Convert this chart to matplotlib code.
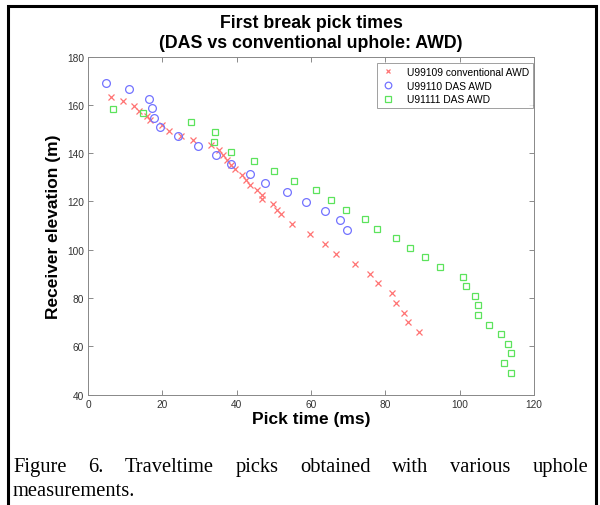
import matplotlib
matplotlib.use('Agg')
import matplotlib.pyplot as plt
from matplotlib.patches import Rectangle

# picks
conv_t = [6.3, 9.5, 12.4, 13.7, 16.0, 16.7, 19.8, 21.9, 25.1, 28.2, 33.2, 35.2,
          36.3, 37.4, 38.5, 39.5, 41.5, 42.5, 43.7, 45.6, 46.7, 46.9, 49.8, 50.8,
          51.8, 54.8, 59.8, 63.9, 66.8, 71.8, 75.9, 77.9, 81.9, 82.9, 84.9, 86.0, 89.0]
conv_z = [163.4, 161.5, 159.6, 157.4, 155.4, 153.5, 151.6, 149.2, 147.1, 145.3, 143.3, 141.2,
          139.1, 137.1, 135.1, 133.2, 130.9, 128.8, 126.8, 124.9, 122.6, 120.8, 118.7, 116.5,
          114.7, 110.6, 106.5, 102.4, 98.4, 94.1, 90.1, 86.0, 82.1, 78.0, 73.8, 69.9, 65.7]

das110_t = [4.9, 10.9, 16.4, 17.1, 17.8, 19.3, 24.3, 29.5, 34.5, 38.5, 43.7, 47.7,
            53.6, 58.7, 63.8, 67.7, 69.8]
das110_z = [168.9, 166.5, 162.6, 158.7, 154.7, 151.0, 147.0, 143.0, 139.0, 135.3, 131.4, 127.5,
            123.7, 119.7, 115.8, 112.1, 108.0]

das111_t = [6.7, 14.8, 27.7, 34.2, 34.0, 38.6, 44.7, 50.1, 55.5, 61.3, 65.5, 69.5,
            74.5, 77.7, 82.9, 86.6, 90.8, 94.8, 100.8, 101.8, 104.0, 104.8, 104.8, 108.0,
            111.0, 112.9, 113.9, 111.9, 113.9]
das111_z = [158.1, 156.4, 152.7, 148.7, 144.6, 140.5, 136.6, 132.6, 128.5, 124.6, 120.6, 116.6,
            112.6, 108.6, 104.8, 100.7, 96.8, 92.8, 88.7, 84.8, 80.9, 76.9, 72.9, 68.9,
            65.0, 61.0, 57.0, 53.0, 49.0]

labels = ['U99109 conventional AWD', 'U99110 DAS AWD', 'U91111 DAS AWD']
x_ticks = [0, 20, 40, 60, 80, 100, 120]
y_ticks = [40, 60, 80, 100, 120, 140, 160, 180]

caption_1 = 'Figure 6. Traveltime picks obtained with various uphole'
caption_2 = 'measurements.'

plt.rcParams['font.family'] = ['Liberation Sans', 'DejaVu Sans']

W, H = 600, 506
fig = plt.figure(figsize=(W / 100, H / 100), dpi=100)
fig.patch.set_facecolor('white')

ax = fig.add_axes([88 / W, 1 - 395.5 / H, 446 / W, 338 / H])
ax.plot(conv_t, conv_z, 'x', color='#ff7373', ms=4.0, mew=0.9, label=labels[0])
ax.plot(das110_t, das110_z, 'o', color='#7373ff', mfc='none', ms=5.6, mew=0.9, label=labels[1])
ax.plot(das111_t, das111_z, 's', color='#5ce35c', mfc='none', ms=4.6, mew=0.9, label=labels[2])

ax.set_xlim(0, 120)
ax.set_ylim(40, 180)
ax.set_xticks(x_ticks)
ax.set_yticks(y_ticks)
ax.tick_params(direction='in', length=3.5, width=0.6, colors='#777777',
               labelcolor='#333333', labelsize=7.3, top=True, right=True, pad=3)
for s in ax.spines.values():
    s.set_color('#888888')
    s.set_linewidth(0.7)

ax.set_xlabel('Pick time (ms)', fontsize=12.5, fontweight='bold', labelpad=2)
ax.set_ylabel('Receiver elevation (m)', fontsize=12.5, fontweight='bold', labelpad=4)

leg = ax.legend(loc='upper right', bbox_to_anchor=(0.998, 0.981), borderaxespad=0,
                fontsize=7.4, frameon=True, fancybox=False, labelspacing=0.35,
                handlelength=1.4, handletextpad=1.1, borderpad=0.4, markerscale=0.85)
leg.get_frame().set_edgecolor('#888888')
leg.get_frame().set_linewidth(0.7)

cx = 311 / W
fig.text(cx, 1 - 23 / H, 'First break pick times', ha='center', va='center',
         fontsize=12.8, fontweight='bold')
fig.text(cx, 1 - 44 / H, '(DAS vs conventional uphole: AWD)', ha='center', va='center',
         fontsize=12.8, fontweight='bold')

# black frame round the figure
fig.patches.append(Rectangle((8 / W, -0.05), 587.5 / W, 1.05 - 7 / H, transform=fig.transFigure,
                             fill=False, edgecolor='black', linewidth=2.2))

# justified caption, first line spread between the frame margins
cap_kw = dict(fontsize=14.8, family=['Liberation Serif', 'DejaVu Serif'], va='baseline')
words = caption_1.split()
texts = [fig.text(0, 1 - 472 / H, w, **cap_kw) for w in words]
fig.canvas.draw()
r = fig.canvas.get_renderer()
widths = [t.get_window_extent(r).width for t in texts]
left, right = 13, 588
gap = (right - left - sum(widths)) / (len(words) - 1)
x = left
for t, w in zip(texts, widths):
    t.set_x(x / W)
    x += w + gap
fig.text(left / W, 1 - 496 / H, caption_2, **cap_kw)

fig.savefig('out.png', dpi=100)
